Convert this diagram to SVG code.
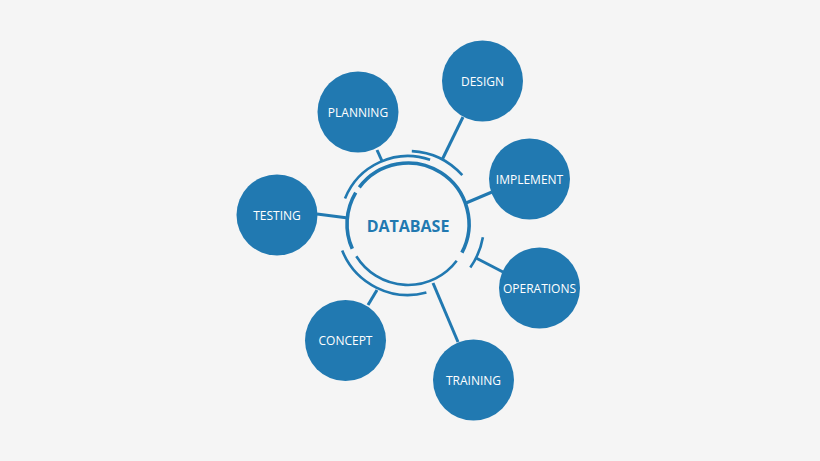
<svg xmlns="http://www.w3.org/2000/svg" width="820" height="461" viewBox="0 0 820 461">
<style>
.bg{fill:#f5f5f5}
.node{fill:#2179b1}
.lbl{fill:#ffffff;font-family:"Open Sans","Noto Sans","Liberation Sans",sans-serif;font-size:12px;text-anchor:middle}
.title{fill:#2179b1;font-family:"Open Sans","Noto Sans","Liberation Sans",sans-serif;font-size:16px;font-weight:bold;text-anchor:middle}
.ring{fill:none;stroke:#2179b1;stroke-linecap:butt}
.thick{stroke-width:3.6}
.thin{stroke-width:2.6}
.conn{stroke:#2179b1;stroke-width:3;fill:none}
</style>
<rect class="bg" x="0" y="0" width="820" height="461"/>
<g id="connectors">
<line class="conn" x1="377" y1="150" x2="382" y2="161"/>
<line class="conn" x1="463" y1="117" x2="442" y2="160"/>
<line class="conn" x1="492" y1="192" x2="466" y2="203"/>
<line class="conn" x1="317" y1="214" x2="348" y2="218"/>
<line class="conn" x1="503" y1="272" x2="476" y2="258"/>
<line class="conn" x1="368" y1="305" x2="377" y2="290"/>
<line class="conn" x1="458" y1="342" x2="433" y2="283"/>
</g>
<g id="database">
<path class="ring thick" d="M352.3,248.8 A61,61 0 0 1 355.7,192.6"/>
<path class="ring thick" d="M359.3,187.3 A61,61 0 0 1 461.9,252.6"/>
<path class="ring thin" d="M456.7,260.7 A61,61 0 0 1 356.3,256.3"/>
<path class="ring thin" d="M345.0,198.5 A68,68 0 0 1 430.1,159.7"/>
<path class="ring thin" d="M411.8,151.1 A73,73 0 0 1 462.3,175.2"/>
<path class="ring thin" d="M482.9,237.2 A76,76 0 0 1 470.3,267.6"/>
<path class="ring thin" d="M426.4,292.6 A71,71 0 0 1 342.2,250.6"/>
<text class="title" x="408" y="231.5">DATABASE</text>
</g>
<g id="planning"><circle class="node" cx="358" cy="112" r="40.5"/><text class="lbl" x="358" y="116.5">PLANNING</text></g>
<g id="design"><circle class="node" cx="482.5" cy="81" r="40.5"/><text class="lbl" x="482.5" y="85.5">DESIGN</text></g>
<g id="implement"><circle class="node" cx="529.5" cy="179" r="40.5"/><text class="lbl" x="529.5" y="183.5">IMPLEMENT</text></g>
<g id="testing"><circle class="node" cx="277" cy="215" r="40.5"/><text class="lbl" x="277" y="219.5">TESTING</text></g>
<g id="operations"><circle class="node" cx="539.5" cy="288" r="40.5"/><text class="lbl" x="539.5" y="292.5">OPERATIONS</text></g>
<g id="concept"><circle class="node" cx="345.5" cy="340.5" r="40.5"/><text class="lbl" x="345.5" y="345">CONCEPT</text></g>
<g id="training"><circle class="node" cx="473.5" cy="380" r="40.5"/><text class="lbl" x="473.5" y="384.5">TRAINING</text></g>
</svg>
